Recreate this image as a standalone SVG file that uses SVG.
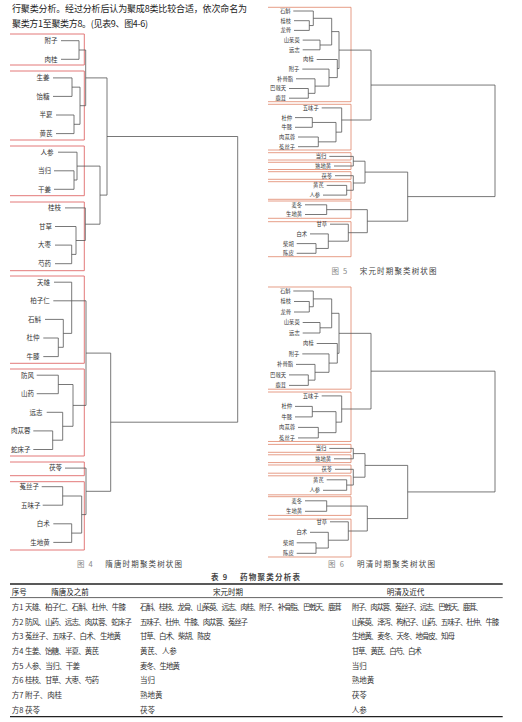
<svg xmlns="http://www.w3.org/2000/svg" xmlns:xlink="http://www.w3.org/1999/xlink" width="522" height="722" viewBox="0 0 522 722">
<style>
text{font-family:"Noto Sans CJK SC","Noto Sans",sans-serif;fill:#333}
.l4{font-size:6.5px;text-anchor:end}
.l5{font-size:5.3px;text-anchor:end}
.tr path{fill:none;stroke:#555;stroke-width:0.8;vector-effect:non-scaling-stroke}
.bx4{fill:none;stroke:#e06a6a;stroke-width:0.9}
.bx5 path{fill:none;stroke:#e08468;stroke-width:0.8;vector-effect:non-scaling-stroke}
.para{font-size:9px;fill:#222}
.cap{font-size:7.5px;text-anchor:middle;fill:#444}
.tb{font-size:7.5px;fill:#222}
.th{font-size:7.5px;fill:#222}
.rule{stroke:#222;fill:none}
</style>
<rect width="522" height="722" fill="#ffffff"/>

<g id="intro">
<text class="para" x="12" y="11.6" textLength="235" lengthAdjust="spacing">行聚类分析。经过分析后认为聚成8类比较合适，依次命名为</text>
<text class="para" x="12" y="26.6" textLength="136" lengthAdjust="spacing">聚类方1至聚类方8。(见表9、图4-6)</text>
</g>

<!-- Figure 4 -->
<g id="fig4-boxes" class="bx4">
<path d="M10 34H84.3V65H10"/>
<path d="M10 71H84.3V140H10"/>
<path d="M10 146H84.3V195.7H10"/>
<path d="M10 202H84.3V270.7H10"/>
<path d="M10 276H84.3V363.3H10"/>
<path d="M10 369H84.3V456H10"/>
<path d="M10 462H84.3V475.7H10"/>
<path d="M10 481.7H84.3V550H10"/>
</g>
<g id="fig4-connectors" class="tr">
<path d="M61 40.7H79M61 59.3H79M53 77.9H72M53 96.4H72M56 115H74M56 133.6H74M58 152.2H77M54 170.8H74M54 189.3H74M65 207.9H85.3M55 226.5H76M55 245.1H71.7M55 263.7H71.7M54 282.2H71.7M53.3 300.8H71.7M45 319.4H63.3M43.3 338H58.3M43.3 356.6H58.3M36.7 375.2H58.3M36.7 393.7H58.3M46.7 412.3H62.7M33.3 430.9H52.7M33.3 449.5H52.7M65 468.1H86M41.7 486.7H62.7M42.7 505.2H62.7M53.3 523.8H71.7M53.3 542.4H71.7"/>
<path d="M79 40.7V59.3M79 50H85.7M72 77.9V96.4M72 87.15H80M74 115V133.6M74 124.3H80M80 87.15V124.3M80 105.7H85.7M85.7 50V105.7M85.7 77.9H107M74 170.8V189.3M74 180H77M77 152.2V180M77 166.1H100M71.7 245.1V263.7M71.7 254.4H76M76 226.5V254.4M76 240.5H85.3M85.3 207.9V240.5M85.3 224.2H100M100 166.1V224.2M100 195.1H107M107 77.9V195.1M107 136.5H237.7M58.3 338V356.6M58.3 347.3H63.3M63.3 319.4V347.3M63.3 333.4H71.7M71.7 282.2V333.4M71.7 300.8H86M58.3 375.2V393.7M58.3 384.5H73M52.7 430.9V449.5M52.7 440.2H62.7M62.7 412.3V440.2M62.7 426.3H73M73 384.5V426.3M73 405.4H86M86 300.8V405.4M86 353.1H110.7M62.7 486.7V505.2M62.7 496H81.7M71.7 523.8V542.4M71.7 533.1H81.7M81.7 496V533.1M81.7 514.6H86M86 468.1V514.6M86 491.3H110.7M110.7 353.1V491.3M110.7 422.2H237.7M237.7 136.5V422.2"/>
</g>
<g id="f4n0"><text class="l4" x="57.5" y="43">附子</text></g>
<g id="f4n1"><text class="l4" x="57.5" y="61.6">肉桂</text></g>
<g id="f4n2"><text class="l4" x="49.5" y="80.2">生姜</text></g>
<g id="f4n3"><text class="l4" x="49.5" y="98.7">饴糖</text></g>
<g id="f4n4"><text class="l4" x="52.5" y="117.3">半夏</text></g>
<g id="f4n5"><text class="l4" x="52.5" y="135.9">黄芪</text></g>
<g id="f4n6"><text class="l4" x="53.5" y="154.5">人参</text></g>
<g id="f4n7"><text class="l4" x="51" y="173.1">当归</text></g>
<g id="f4n8"><text class="l4" x="51" y="191.6">干姜</text></g>
<g id="f4n9"><text class="l4" x="61" y="210.2">桂枝</text></g>
<g id="f4n10"><text class="l4" x="52" y="228.8">甘草</text></g>
<g id="f4n11"><text class="l4" x="51" y="247.4">大枣</text></g>
<g id="f4n12"><text class="l4" x="51" y="266">芍药</text></g>
<g id="f4n13"><text class="l4" x="50" y="284.5">天雄</text></g>
<g id="f4n14"><text class="l4" x="49.8" y="303.1">柏子仁</text></g>
<g id="f4n15"><text class="l4" x="41" y="321.7">石斛</text></g>
<g id="f4n16"><text class="l4" x="39.5" y="340.3">杜仲</text></g>
<g id="f4n17"><text class="l4" x="39.5" y="358.9">牛膝</text></g>
<g id="f4n18"><text class="l4" x="34" y="377.5">防风</text></g>
<g id="f4n19"><text class="l4" x="34" y="396">山药</text></g>
<g id="f4n20"><text class="l4" x="42.5" y="414.6">远志</text></g>
<g id="f4n21"><text class="l4" x="30.5" y="433.2">肉苁蓉</text></g>
<g id="f4n22"><text class="l4" x="30.5" y="451.8">蛇床子</text></g>
<g id="f4n23"><text class="l4" x="62" y="470.4">茯苓</text></g>
<g id="f4n24"><text class="l4" x="39" y="489">菟丝子</text></g>
<g id="f4n25"><text class="l4" x="40.5" y="507.5">五味子</text></g>
<g id="f4n26"><text class="l4" x="49.8" y="526.1">白术</text></g>
<g id="f4n27"><text class="l4" x="49.8" y="544.7">生地黄</text></g>
<g id="cap4"><text class="cap" x="129.5" y="566.8" textLength="105" lengthAdjust="spacing"><tspan fill="#888">图 4</tspan>　 隋唐时期聚类树状图</text></g>

<!-- Figure 5 -->
<defs>
<g id="f5boxes" class="bx5">
<path d="M268 7.3H351V101.7H268"/>
<path d="M268 104.3H351V150H268"/>
<path d="M268 152.7H351V160H268"/>
<path d="M268 162.3H351V169.5H268"/>
<path d="M268 171.7H351V179.3H268"/>
<path d="M268 181.7H351V199.3H268"/>
<path d="M268 201H351V218.3H268"/>
<path d="M268 221.7H351V256.7H268"/>
</g>
<g id="f5lines" class="tr">
<path d="M293.3 11H313.3M294 20.7H309.3M294 30.4H309.3M302.7 40.1H320M302.7 49.8H320M316.7 59.5H337.3M302.3 69.1H329M296 78.8H315M289 88.5H308.3M289 98.2H308.3M321.7 107.9H341.7M295 117.6H312.3M295 127.3H312.3M298 137H318.3M298 146.7H318.3M329.3 156.4H353.3M334 166H353.3M335 175.7H353.3M326.7 185.4H346.7M323 195.1H346.7M305 204.8H326.7M305 214.5H326.7M330 224.2H348.3M310 233.9H328.3M296.7 243.6H316M296.7 253.3H316"/>
<path d="M309.3 20.7V30.4M309.3 25.55H313.3M313.3 11V25.55M313.3 18.3H331.7M320 40.1V49.8M320 45H331.7M331.7 18.3V45M331.7 31.6H339M308.3 88.5V98.2M308.3 93.35H315M315 78.8V93.35M315 86.1H329M329 69.1V86.1M329 77.6H337.3M337.3 59.5V77.6M337.3 68.55H339M339 31.6V68.55M339 50.1H371M312.3 117.6V127.3M312.3 122.45H336M318.3 137V146.7M318.3 141.85H336M336 122.45V141.85M336 132.15H341.7M341.7 107.9V132.15M341.7 120H371M371 50.1V120M371 85.05H495M353.3 156.4V166M353.3 161.2H365M346.7 185.4V195.1M346.7 190.25H353.3M353.3 175.7V190.25M353.3 183H365M365 161.2V183M365 172.1H407.7M326.7 204.8V214.5M326.7 209.65H367.3M316 243.6V253.3M316 248.45H328.3M328.3 233.9V248.45M328.3 241.2H348.3M348.3 224.2V241.2M348.3 232.7H367.3M367.3 209.65V232.7M367.3 221.2H407.7M407.7 172.1V221.2M407.7 196.6H495M495 85.05V196.6"/>
</g>
</defs>
<g id="fig5-boxes"><use href="#f5boxes"/></g>
<g id="fig5-connectors"><use href="#f5lines"/></g>
<g id="f5n0"><text class="l5" x="290.5" y="12.9">石斛</text></g>
<g id="f5n1"><text class="l5" x="291" y="22.6">桂枝</text></g>
<g id="f5n2"><text class="l5" x="291" y="32.3">龙骨</text></g>
<g id="f5n3"><text class="l5" x="299.7" y="42">山茱萸</text></g>
<g id="f5n4"><text class="l5" x="299.7" y="51.7">远志</text></g>
<g id="f5n5"><text class="l5" x="313.7" y="61.4">肉桂</text></g>
<g id="f5n6"><text class="l5" x="299.3" y="71">附子</text></g>
<g id="f5n7"><text class="l5" x="293" y="80.7">补骨脂</text></g>
<g id="f5n8"><text class="l5" x="286" y="90.4">巴戟天</text></g>
<g id="f5n9"><text class="l5" x="286" y="100.1">鹿茸</text></g>
<g id="f5n10"><text class="l5" x="318.7" y="109.8">五味子</text></g>
<g id="f5n11"><text class="l5" x="292" y="119.5">杜仲</text></g>
<g id="f5n12"><text class="l5" x="292" y="129.2">牛膝</text></g>
<g id="f5n13"><text class="l5" x="295" y="138.9">肉苁蓉</text></g>
<g id="f5n14"><text class="l5" x="295" y="148.6">菟丝子</text></g>
<g id="f5n15"><text class="l5" x="326.3" y="158.3">当归</text></g>
<g id="f5n16"><text class="l5" x="331" y="167.9">熟地黄</text></g>
<g id="f5n17"><text class="l5" x="332" y="177.6">茯苓</text></g>
<g id="f5n18"><text class="l5" x="323.7" y="187.3">黄芪</text></g>
<g id="f5n19"><text class="l5" x="320" y="197">人参</text></g>
<g id="f5n20"><text class="l5" x="302" y="206.7">麦冬</text></g>
<g id="f5n21"><text class="l5" x="302" y="216.4">生地黄</text></g>
<g id="f5n22"><text class="l5" x="327" y="226.1">甘草</text></g>
<g id="f5n23"><text class="l5" x="307" y="235.8">白术</text></g>
<g id="f5n24"><text class="l5" x="293.7" y="245.5">柴胡</text></g>
<g id="f5n25"><text class="l5" x="293.7" y="255.2">陈皮</text></g>
<g id="cap5"><text class="cap" x="384" y="273.5" textLength="105" lengthAdjust="spacing"><tspan fill="#888">图 5</tspan>　 宋元时期聚类树状图</text></g>

<!-- Figure 6 -->
<g id="fig6-boxes"><use href="#f5boxes" transform="translate(0,279.09) scale(1,1.0826)"/></g>
<g id="fig6-connectors"><use href="#f5lines" transform="translate(0,279.09) scale(1,1.0826)"/></g>
<g id="f6n0"><text class="l5" x="290.5" y="292.9">石斛</text></g>
<g id="f6n1"><text class="l5" x="291" y="303.4">桂枝</text></g>
<g id="f6n2"><text class="l5" x="291" y="313.9">龙骨</text></g>
<g id="f6n3"><text class="l5" x="299.7" y="324.4">山茱萸</text></g>
<g id="f6n4"><text class="l5" x="299.7" y="334.9">远志</text></g>
<g id="f6n5"><text class="l5" x="313.7" y="345.4">肉桂</text></g>
<g id="f6n6"><text class="l5" x="299.3" y="355.8">附子</text></g>
<g id="f6n7"><text class="l5" x="293" y="366.3">补骨脂</text></g>
<g id="f6n8"><text class="l5" x="286" y="376.8">巴戟天</text></g>
<g id="f6n9"><text class="l5" x="286" y="387.3">鹿茸</text></g>
<g id="f6n10"><text class="l5" x="318.7" y="397.8">五味子</text></g>
<g id="f6n11"><text class="l5" x="292" y="408.3">杜仲</text></g>
<g id="f6n12"><text class="l5" x="292" y="418.8">牛膝</text></g>
<g id="f6n13"><text class="l5" x="295" y="429.3">肉苁蓉</text></g>
<g id="f6n14"><text class="l5" x="295" y="439.8">菟丝子</text></g>
<g id="f6n15"><text class="l5" x="326.3" y="450.3">当归</text></g>
<g id="f6n16"><text class="l5" x="331" y="460.7">熟地黄</text></g>
<g id="f6n17"><text class="l5" x="332" y="471.2">茯苓</text></g>
<g id="f6n18"><text class="l5" x="323.7" y="481.7">黄芪</text></g>
<g id="f6n19"><text class="l5" x="320" y="492.2">人参</text></g>
<g id="f6n20"><text class="l5" x="302" y="502.7">麦冬</text></g>
<g id="f6n21"><text class="l5" x="302" y="513.2">生地黄</text></g>
<g id="f6n22"><text class="l5" x="327" y="523.7">甘草</text></g>
<g id="f6n23"><text class="l5" x="307" y="534.2">白术</text></g>
<g id="f6n24"><text class="l5" x="293.7" y="544.7">柴胡</text></g>
<g id="f6n25"><text class="l5" x="293.7" y="555.2">陈皮</text></g>
<g id="cap6"><text class="cap" x="381.5" y="566.8" textLength="107" lengthAdjust="spacing"><tspan fill="#888">图 6</tspan>　 明清时期聚类树状图</text></g>

<!-- Table 9 -->
<g id="table9">
<text class="cap" x="255.5" y="580" textLength="89" lengthAdjust="spacing" font-weight="bold" fill="#222">表 9　 药物聚类分析表</text>
<path class="rule" d="M10 584H502.7" stroke-width="1.5"/>
<path class="rule" d="M10 597.6H502.7" stroke-width="0.7"/>
<path class="rule" d="M10 716.7H502.7" stroke-width="1.3"/>
<text class="th" x="11.7" y="595.3">序号</text>
<text class="th" x="70" y="595.3" text-anchor="middle">隋唐及之前</text>
<text class="th" x="228" y="595.3" text-anchor="middle">宋元时期</text>
<text class="th" x="405.5" y="595.3" text-anchor="middle">明清及近代</text>
<g class="tb">
<text x="11.7" y="609.5">方1</text>
<text x="11.7" y="624.5">方2</text>
<text x="11.7" y="638.8">方3</text>
<text x="11.7" y="653.5">方4</text>
<text x="11.7" y="668.8">方5</text>
<text x="11.7" y="682.8">方6</text>
<text x="11.7" y="697.8">方7</text>
<text x="11.7" y="712.8">方8</text>
<text x="25" y="609.5" textLength="101" lengthAdjust="spacing">天雄、柏子仁、石斛、杜仲、牛膝</text>
<text x="25" y="624.5" textLength="107" lengthAdjust="spacing">防风、山药、远志、肉苁蓉、蛇床子</text>
<text x="25" y="638.8" textLength="96" lengthAdjust="spacing">菟丝子、五味子、白术、生地黄</text>
<text x="25" y="653.5" textLength="74" lengthAdjust="spacing">生姜、饴糖、半夏、黄芪</text>
<text x="25" y="668.8" textLength="55" lengthAdjust="spacing">人参、当归、干姜</text>
<text x="25" y="682.8" textLength="74" lengthAdjust="spacing">桂枝、甘草、大枣、芍药</text>
<text x="25" y="697.8" textLength="37" lengthAdjust="spacing">附子、肉桂</text>
<text x="25" y="712.8">茯苓</text>
<text x="140" y="609.5" textLength="201.7" lengthAdjust="spacing">石斛、桂枝、龙骨、山茱萸、远志、肉桂、附子、补骨脂、巴戟天、鹿茸</text>
<text x="140" y="624.5" textLength="108" lengthAdjust="spacing">五味子、杜仲、牛膝、肉苁蓉、菟丝子</text>
<text x="140" y="638.8" textLength="71" lengthAdjust="spacing">甘草、白术、柴胡、陈皮</text>
<text x="140" y="653.5" textLength="36.7" lengthAdjust="spacing">黄芪、人参</text>
<text x="140" y="668.8" textLength="40" lengthAdjust="spacing">麦冬、生地黄</text>
<text x="140" y="682.8">当归</text>
<text x="140" y="697.8">熟地黄</text>
<text x="140" y="712.8">茯苓</text>
<text x="351.7" y="609.5" textLength="131" lengthAdjust="spacing">附子、肉苁蓉、菟丝子、远志、巴戟天、鹿茸、</text>
<text x="351.7" y="624.5" textLength="147.6" lengthAdjust="spacing">山茱萸、泽泻、枸杞子、山药、五味子、杜仲、牛膝</text>
<text x="351.7" y="638.8" textLength="103.3" lengthAdjust="spacing">生地黄、麦冬、天冬、地骨皮、知母</text>
<text x="351.7" y="653.5" textLength="70" lengthAdjust="spacing">甘草、黄芪、白芍、白术</text>
<text x="351.7" y="668.8">当归</text>
<text x="351.7" y="682.8">熟地黄</text>
<text x="351.7" y="697.8">茯苓</text>
<text x="351.7" y="712.8">人参</text>
</g>
</g>
</svg>
